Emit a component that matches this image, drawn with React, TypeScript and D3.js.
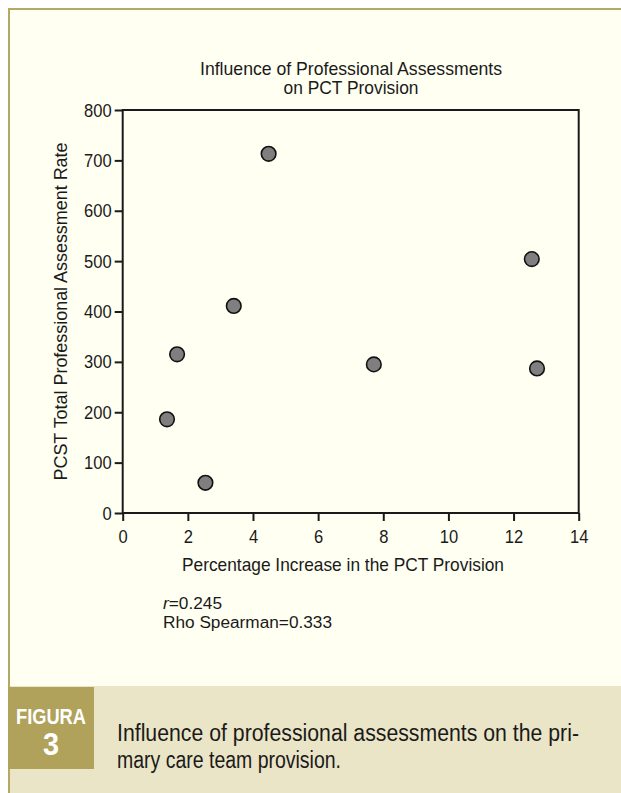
import React, { useEffect, useRef } from 'react';
import * as d3 from 'd3';

// percentage increase in PCT provision (x) vs PCST total professional assessment rate (y)
const pctIncrease = [1.36, 2.54, 1.67, 3.41, 4.48, 7.71, 12.56, 12.72];
const assessmentRate = [186, 60, 315, 411, 713, 295, 504, 287];

const xTicks = [0, 2, 4, 6, 8, 10, 12, 14];
const yTicks = [0, 100, 200, 300, 400, 500, 600, 700, 800];

const titleLines = ['Influence of Professional Assessments', 'on PCT Provision'];
const xLabel = 'Percentage Increase in the PCT Provision';
const yLabel = 'PCST Total Professional Assessment Rate';
const captionLines = ['Influence of professional assessments on the pri-', 'mary care team provision.'];

const FONT = "'Liberation Sans Narrow', 'Arial Narrow', 'Liberation Sans', Arial, sans-serif";
const INK = '#1a1a1a';

export default function App() {
  const svgRef = useRef<SVGSVGElement>(null);

  useEffect(() => {
    const W = 621;
    const H = 793;
    const plot = { left: 122.7, right: 578.7, top: 110, bottom: 513 };

    const svg = d3.select(svgRef.current);
    svg.selectAll('*').remove();

    // squeeze a text to a width (the original uses a condensed face)
    const fit = (t: any, w: number) => t.attr('textLength', w).attr('lengthAdjust', 'spacingAndGlyphs');

    // page background + frame
    svg.append('rect').attr('width', W).attr('height', H).attr('fill', '#ffffff');
    svg.append('rect').attr('x', 8).attr('y', 8).attr('width', W - 8).attr('height', H - 8).attr('fill', '#b4a866');
    svg.append('rect').attr('x', 10).attr('y', 10).attr('width', W - 10).attr('height', H - 10).attr('fill', '#fffff2');

    // caption band
    svg.append('rect').attr('x', 10).attr('y', 686).attr('width', W - 10).attr('height', H - 686).attr('fill', '#ebe5c7');
    svg.append('rect').attr('x', 8).attr('y', 687).attr('width', 86).attr('height', 82).attr('fill', '#b0a25a');
    fit(svg.append('text')
      .attr('x', 51).attr('y', 724)
      .attr('text-anchor', 'middle')
      .attr('font-family', FONT).attr('font-weight', 'bold').attr('font-size', 22)
      .attr('fill', '#ffffff')
      .text('FIGURA'), 70);
    fit(svg.append('text')
      .attr('x', 51).attr('y', 755)
      .attr('text-anchor', 'middle')
      .attr('font-family', FONT).attr('font-weight', 'bold').attr('font-size', 31)
      .attr('fill', '#ffffff')
      .text('3'), 16);

    fit(svg.append('text')
      .attr('x', 117).attr('y', 741)
      .attr('font-family', FONT).attr('font-size', 23).attr('fill', INK)
      .text(captionLines[0]), 462);
    fit(svg.append('text')
      .attr('x', 117).attr('y', 768)
      .attr('font-family', FONT).attr('font-size', 23).attr('fill', INK)
      .text(captionLines[1]), 224);

    const x = d3.scaleLinear().domain([0, 14]).range([plot.left, plot.right]);
    const y = d3.scaleLinear().domain([0, 800]).range([plot.bottom, plot.top]);

    // title
    const titleWidths = [302, 135];
    svg.selectAll('.title')
      .data(titleLines)
      .enter().append('text')
      .attr('class', 'title')
      .attr('x', 351)
      .attr('y', (d, i) => 75 + i * 19)
      .attr('text-anchor', 'middle')
      .attr('font-family', FONT).attr('font-size', 19).attr('fill', INK)
      .attr('textLength', (d, i) => titleWidths[i]).attr('lengthAdjust', 'spacingAndGlyphs')
      .text(d => d);

    // axes
    const gx = svg.append('g')
      .attr('transform', `translate(0,${plot.bottom})`)
      .call(d3.axisBottom(x).tickValues(xTicks).tickSize(8).tickSizeOuter(0).tickPadding(9).tickFormat(d3.format('d')));
    const gy = svg.append('g')
      .attr('transform', `translate(${plot.left},0)`)
      .call(d3.axisLeft(y).tickValues(yTicks).tickSize(8).tickSizeOuter(0).tickPadding(3).tickFormat(d3.format('d')));

    [gx, gy].forEach(g => {
      g.select('.domain').remove();
      g.selectAll('line').attr('stroke', INK).attr('stroke-width', 2);
      g.selectAll('text')
        .attr('font-family', FONT).attr('font-size', 19).attr('fill', INK)
        .attr('textLength', (d: any) => String(d).length * 9.2)
        .attr('lengthAdjust', 'spacingAndGlyphs');
    });

    svg.append('rect')
      .attr('x', plot.left).attr('y', plot.top)
      .attr('width', plot.right - plot.left).attr('height', plot.bottom - plot.top)
      .attr('fill', 'none').attr('stroke', INK).attr('stroke-width', 2);

    // axis labels
    fit(svg.append('text')
      .attr('x', 343).attr('y', 571)
      .attr('text-anchor', 'middle')
      .attr('font-family', FONT).attr('font-size', 19).attr('fill', INK)
      .text(xLabel), 322);
    fit(svg.append('text')
      .attr('transform', `translate(67,${(plot.top + plot.bottom) / 2}) rotate(-90)`)
      .attr('text-anchor', 'middle')
      .attr('font-family', FONT).attr('font-size', 19).attr('fill', INK)
      .text(yLabel), 338);

    // stats
    const stats = svg.append('text')
      .attr('x', 163).attr('y', 609)
      .attr('font-family', FONT).attr('font-size', 16).attr('fill', INK);
    stats.append('tspan').attr('font-style', 'italic').text('r');
    stats.append('tspan').text('=0.245');
    fit(stats, 59);
    fit(svg.append('text')
      .attr('x', 163).attr('y', 628)
      .attr('font-family', FONT).attr('font-size', 16).attr('fill', INK)
      .text('Rho Spearman=0.333'), 169);

    // points
    svg.selectAll('.pt')
      .data(pctIncrease.map((v, i) => ({ px: v, py: assessmentRate[i] })))
      .enter().append('circle')
      .attr('class', 'pt')
      .attr('cx', d => x(d.px))
      .attr('cy', d => y(d.py))
      .attr('r', 7.3)
      .attr('fill', '#7f7f7f')
      .attr('stroke', '#111111')
      .attr('stroke-width', 1.6);
  }, []);

  return (
    <div style={{ position: 'absolute', left: 0, top: 0 }}>
      <svg ref={svgRef} width={621} height={793} style={{ display: 'block' }}></svg>
    </div>
  );
}
